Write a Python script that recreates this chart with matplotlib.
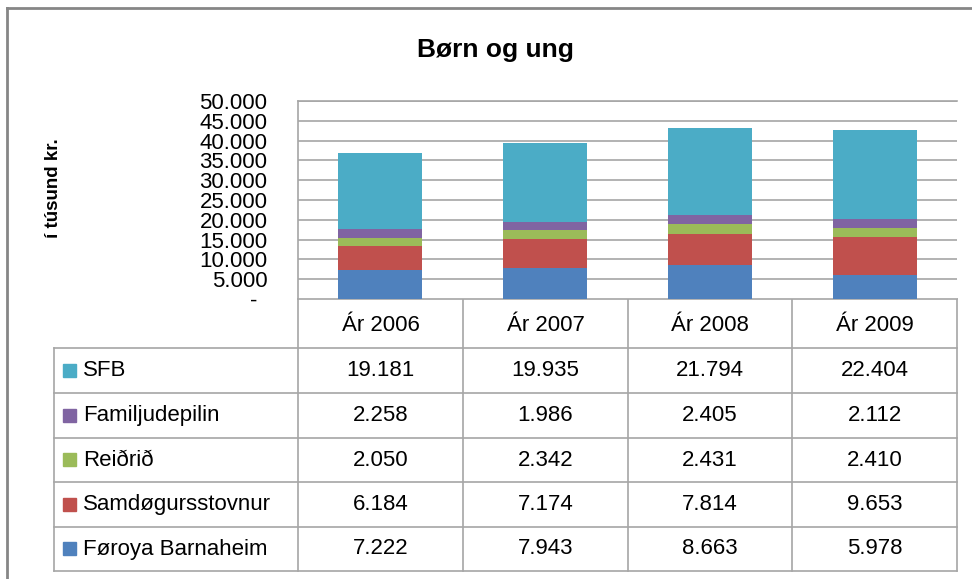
import matplotlib
matplotlib.use("Agg")
import matplotlib.pyplot as plt
from matplotlib.patches import Rectangle
import numpy as np

plt.rcParams["font.family"] = ["Liberation Sans", "DejaVu Sans"]

# Data (i túsund kr.)
years = ["Ár 2006", "Ár 2007", "Ár 2008", "Ár 2009"]
series_names = ["Føroya Barnaheim", "Samdøgursstovnur", "Reiðrið", "Familjudepilin", "SFB"]
foroya_barnaheim = [7222, 7943, 8663, 5978]
samdogursstovnur = [6184, 7174, 7814, 9653]
reidrid = [2050, 2342, 2431, 2410]
familjudepilin = [2258, 1986, 2405, 2112]
sfb = [19181, 19935, 21794, 22404]
colors = ["#4F81BD", "#C0504D", "#9BBB59", "#8064A2", "#4BACC6"]
y_ticks = [0, 5000, 10000, 15000, 20000, 25000, 30000, 35000, 40000, 45000, 50000]

series = [foroya_barnaheim, samdogursstovnur, reidrid, familjudepilin, sfb]

W, H = 972, 579
fig = plt.figure(figsize=(W / 100, H / 100), dpi=100)


def box(x0, y0, x1, y1):
    """Pixel box (top-left origin) -> figure fraction rect."""
    return [x0 / W, 1 - y1 / H, (x1 - x0) / W, (y1 - y0) / H]


grid_col = "#A6A6A6"
fs = 16

# bar chart
ax = fig.add_axes(box(298, 101, 957, 299))
x = np.arange(len(years))
bottom = np.zeros(len(years))
for vals, col, name in zip(series, colors, series_names):
    ax.bar(x, vals, width=0.51, bottom=bottom, color=col, label=name, zorder=3)
    bottom += np.array(vals)

ax.set_xlim(-0.5, len(years) - 0.5)
ax.set_ylim(0, 50000)
ax.set_yticks(y_ticks)
ax.set_yticklabels(["-" if v == 0 else f"{v:,}".replace(",", ".") for v in y_ticks], fontsize=fs)
ax.tick_params(axis="y", length=0, pad=22)
ax.set_xticks([])
ax.yaxis.grid(True, color=grid_col, linewidth=1.2, zorder=0)
for s in ["right", "bottom"]:
    ax.spines[s].set_visible(False)
for s in ["left", "top"]:
    ax.spines[s].set_color(grid_col)
    ax.spines[s].set_linewidth(1.2)
for lbl in ax.get_yticklabels():
    lbl.set_horizontalalignment("right")
ax.get_yticklabels()[0].set_x(-0.015)

# overlay in pixel coordinates for title, label and data table
ov = fig.add_axes([0, 0, 1, 1], zorder=-1)
ov.set_xlim(0, W)
ov.set_ylim(H, 0)
ov.axis("off")

# outer chart border (top and left visible)
ov.plot([7, W], [8, 8], color="#868686", linewidth=2)
ov.plot([7, 7], [8, H], color="#868686", linewidth=2)

ov.text(495, 50, "Børn og ung", ha="center", va="center", fontsize=19, fontweight="bold")
ov.text(53, 188, "í túsund kr.", ha="center", va="center", rotation=90, fontsize=13.5, fontweight="bold")

# table geometry
col_x = [298, 463, 628, 792, 957]
left_x = 54
row_y = [299, 348, 393, 438, 482, 527, 571]

# header row
for xx in col_x:
    ov.plot([xx, xx], [row_y[0], row_y[-1]], color=grid_col, linewidth=1.2)
ov.plot([col_x[0], col_x[-1]], [row_y[0], row_y[0]], color=grid_col, linewidth=1.2)
for i, yr in enumerate(years):
    ov.text((col_x[i] + col_x[i + 1]) / 2, (row_y[0] + row_y[1]) / 2 + 2, yr,
            ha="center", va="center", fontsize=fs)

# body rows
for yy in row_y[1:]:
    ov.plot([left_x, col_x[-1]], [yy, yy], color=grid_col, linewidth=1.2)
ov.plot([left_x, left_x], [row_y[1], row_y[-1]], color=grid_col, linewidth=1.2)

table_order = list(range(len(series)))[::-1]
for r, si in enumerate(table_order):
    yc = (row_y[r + 1] + row_y[r + 2]) / 2
    ov.add_patch(Rectangle((63, yc - 7), 13, 13, color=colors[si]))
    ov.text(83, yc, series_names[si], ha="left", va="center", fontsize=fs)
    for i, v in enumerate(series[si]):
        ov.text((col_x[i] + col_x[i + 1]) / 2, yc, f"{v:,}".replace(",", "."),
                ha="center", va="center", fontsize=fs)

fig.savefig("out.png", dpi=100)
